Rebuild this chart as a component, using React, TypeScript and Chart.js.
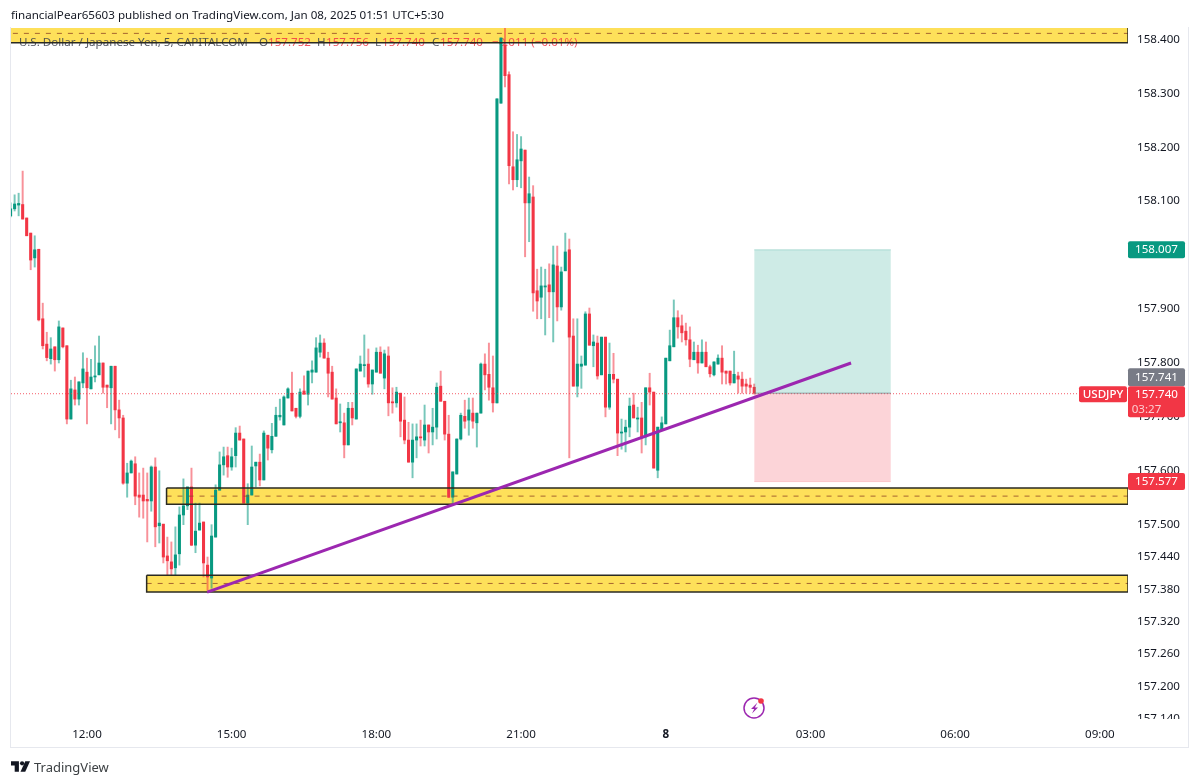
import React, { useEffect, useRef } from "react";
import { Chart, registerables } from "chart.js";

Chart.register(...registerables);

// 5-minute USD/JPY candles, first bar sits 19 bars before the 12:00 tick
const firstBar = -19;
const opens = [
  158.070,158.083,158.090,158.091,158.066,158.038,157.992,158.008,157.879,157.832,
  157.805,157.827,157.803,157.862,157.829,157.693,157.747,157.730,157.760,157.780,
  157.749,157.771,157.775,157.797,157.756,157.751,157.791,157.710,157.695,157.574,
  157.593,157.610,157.552,157.552,157.544,157.541,157.604,157.495,157.498,157.439,
  157.428,157.417,157.443,157.515,157.532,157.567,157.459,157.487,157.502,157.422,
  157.398,157.474,157.561,157.608,157.625,157.604,157.625,157.667,157.656,157.537,
  157.552,157.606,157.613,157.580,157.663,157.636,157.661,157.697,157.682,157.732,
  157.741,157.713,157.698,157.745,157.739,157.780,157.780,157.817,157.834,157.806,
  157.780,157.732,157.686,157.686,157.645,157.713,157.693,157.782,157.792,157.795,
  157.758,157.780,157.817,157.769,157.810,157.725,157.723,157.741,157.691,157.654,
  157.613,157.654,157.660,157.654,157.682,157.669,157.678,157.754,157.726,157.665,
  157.548,157.591,157.656,157.698,157.691,157.704,157.686,157.704,157.795,157.776,
  157.751,157.723,158.279,158.387,158.332,158.161,158.137,158.172,158.192,158.094,
  158.105,157.931,157.919,157.938,157.942,157.929,157.977,157.901,157.968,158.007,
  157.847,157.754,157.791,157.793,157.888,157.829,157.834,157.775,157.845,157.715,
  157.776,157.767,157.667,157.669,157.678,157.719,157.693,157.695,157.660,157.751,
  157.743,157.598,157.673,157.684,157.801,157.827,157.881,157.866,157.856,157.840,
  157.803,157.817,157.797,157.817,157.790,157.775,157.795,157.806,157.782,157.782,
  157.760,157.773,157.767,157.758,157.756,157.752,
];
const highs = [
  158.094,158.109,158.112,158.153,158.066,158.038,158.033,158.008,157.908,157.854,
  157.844,157.827,157.875,157.862,157.829,157.765,157.771,157.762,157.816,157.806,
  157.804,157.829,157.847,157.797,157.756,157.791,157.791,157.728,157.700,157.611,
  157.617,157.623,157.593,157.602,157.593,157.606,157.621,157.597,157.498,157.474,
  157.465,157.493,157.530,157.582,157.567,157.602,157.537,157.537,157.502,157.437,
  157.497,157.571,157.632,157.641,157.641,157.639,157.677,157.680,157.656,157.573,
  157.643,157.613,157.628,157.671,157.663,157.685,157.715,157.730,157.736,157.751,
  157.780,157.713,157.749,157.773,157.782,157.801,157.844,157.849,157.842,157.817,
  157.791,157.749,157.721,157.704,157.724,157.724,157.786,157.810,157.849,157.823,
  157.784,157.825,157.827,157.821,157.827,157.751,157.752,157.741,157.734,157.687,
  157.684,157.684,157.691,157.719,157.682,157.713,157.760,157.782,157.726,157.700,
  157.595,157.656,157.704,157.728,157.732,157.732,157.704,157.797,157.814,157.834,
  157.810,158.287,158.400,158.418,158.337,158.226,158.221,158.217,158.192,158.142,
  158.126,157.971,157.975,157.971,157.981,158.014,158.014,157.975,158.038,158.027,
  157.879,157.879,157.810,157.892,157.899,157.849,157.847,157.845,157.845,157.834,
  157.815,157.767,157.693,157.691,157.732,157.741,157.715,157.724,157.751,157.778,
  157.743,157.678,157.697,157.806,157.858,157.914,157.894,157.886,157.871,157.864,
  157.836,157.830,157.840,157.836,157.793,157.799,157.812,157.829,157.782,157.782,
  157.819,157.780,157.780,157.767,157.769,157.758,
];
const lows = [
  158.068,158.079,158.070,158.064,158.033,157.970,157.975,157.875,157.823,157.801,
  157.795,157.782,157.797,157.825,157.684,157.693,157.719,157.719,157.751,157.684,
  157.749,157.762,157.775,157.741,157.714,157.684,157.673,157.658,157.572,157.548,
  157.593,157.534,157.511,157.509,157.465,157.522,157.456,157.463,157.426,157.404,
  157.404,157.404,157.422,157.497,157.525,157.458,157.445,157.487,157.400,157.376,
  157.379,157.474,157.561,157.589,157.585,157.598,157.604,157.654,157.537,157.497,
  157.552,157.567,157.569,157.580,157.617,157.630,157.661,157.691,157.682,157.732,
  157.708,157.695,157.695,157.739,157.719,157.760,157.780,157.808,157.806,157.734,
  157.730,157.684,157.669,157.621,157.645,157.682,157.693,157.782,157.771,157.752,
  157.739,157.780,157.778,157.749,157.699,157.704,157.715,157.660,157.647,157.613,
  157.584,157.621,157.643,157.643,157.630,157.645,157.656,157.726,157.654,157.547,
  157.537,157.591,157.654,157.676,157.663,157.676,157.641,157.704,157.747,157.728,
  157.706,157.723,158.279,158.309,158.129,158.118,158.124,158.122,157.994,158.022,
  157.893,157.879,157.879,157.849,157.881,157.836,157.875,157.895,157.968,157.621,
  157.754,157.734,157.750,157.793,157.830,157.790,157.767,157.775,157.697,157.711,
  157.760,157.625,157.637,157.632,157.660,157.695,157.669,157.630,157.645,157.719,
  157.602,157.584,157.673,157.684,157.801,157.827,157.843,157.836,157.830,157.790,
  157.803,157.778,157.797,157.790,157.771,157.773,157.795,157.758,157.758,157.756,
  157.760,157.741,157.741,157.741,157.741,157.739,
];
const closes = [
  158.083,158.092,158.093,158.064,158.033,157.988,158.007,157.877,157.829,157.807,
  157.823,157.803,157.864,157.827,157.693,157.749,157.730,157.762,157.786,157.751,
  157.771,157.773,157.797,157.752,157.752,157.791,157.710,157.695,157.574,157.593,
  157.615,157.550,157.548,157.541,157.541,157.604,157.493,157.500,157.437,157.430,
  157.415,157.441,157.515,157.532,157.567,157.459,157.485,157.500,157.426,157.400,
  157.476,157.561,157.608,157.623,157.604,157.623,157.667,157.654,157.537,157.552,
  157.604,157.613,157.580,157.667,157.639,157.661,157.700,157.700,157.734,157.749,
  157.708,157.698,157.743,157.739,157.782,157.784,157.825,157.834,157.806,157.778,
  157.730,157.684,157.688,157.645,157.713,157.695,157.786,157.795,157.794,157.758,
  157.784,157.817,157.778,157.814,157.723,157.723,157.743,157.689,157.654,157.613,
  157.654,157.660,157.658,157.682,157.669,157.678,157.752,157.726,157.665,157.548,
  157.595,157.656,157.700,157.689,157.710,157.689,157.704,157.795,157.775,157.752,
  157.723,158.287,158.400,158.330,158.163,158.137,158.174,158.194,158.094,158.111,
  157.927,157.912,157.940,157.940,157.929,157.979,157.901,157.966,158.003,157.845,
  157.754,157.795,157.795,157.888,157.830,157.836,157.773,157.845,157.715,157.776,
  157.767,157.667,157.669,157.678,157.717,157.695,157.695,157.660,157.751,157.743,
  157.602,157.678,157.686,157.806,157.829,157.881,157.864,157.853,157.840,157.804,
  157.817,157.797,157.817,157.790,157.777,157.799,157.806,157.780,157.778,157.760,
  157.776,157.767,157.754,157.754,157.752,157.741,
];

// axes
const xMin = -18.9;
const xMax = 259;
const yMin = 157.1365;
const yMax = 158.4185;
const timeTickBars = [0, 36, 72, 108, 144, 180, 216, 252];
const timeTickLabels = ["12:00", "15:00", "18:00", "21:00", "8", "03:00", "06:00", "09:00"];
const priceTicks = [158.4, 158.3, 158.2, 158.1, 158.0, 157.9, 157.8, 157.7, 157.6, 157.5, 157.44, 157.38, 157.32, 157.26, 157.2, 157.14];

// drawings (bar index / price)
const zoneStartBars = [xMin - 5, 19.8, 14.85];
const zoneTops = [158.425, 157.565, 157.403];
const zoneMids = [158.4085, 157.55, 157.388];
const zoneBottoms = [158.391, 157.535, 157.372];
const trendBars = [29.9, 190.1];
const trendPrices = [157.372, 157.797];
const positionBars = [166, 200];
const targetPrice = 158.007;
const entryPrice = 157.741;
const stopPrice = 157.577;
const lastPrice = 157.74;
const lastPriceEndBar = 247.4;

const UP = "#089981";
const DOWN = "#f23645";
const UP_WICK = "rgba(8,153,129,0.55)";
const DOWN_WICK = "rgba(242,54,69,0.55)";
const ZONE = "#fee05a";
const FONT = '"Noto Sans", sans-serif';
const FONT_SIZE = 11.6;

const legendParts: [string, number, string][] = [
  ["U.S. Dollar / Japanese Yen, 5, CAPITALCOM", 19, "#3a3e4a"],
  ["O", 259, "#3a3e4a"],
  ["157.752", 268, DOWN],
  ["H", 317, "#3a3e4a"],
  ["157.756", 326, DOWN],
  ["L", 375, "#3a3e4a"],
  ["157.740", 382, DOWN],
  ["C", 432, "#3a3e4a"],
  ["157.740", 440, DOWN],
  ["\u22120.011 (\u22120.01%)", 492, DOWN],
];

function line(points: { x: number; y: number }[], extra: Record<string, unknown>) {
  return { type: "line", data: points, pointRadius: 0, borderWidth: 0, tension: 0, ...extra };
}

function tag(ctx: CanvasRenderingContext2D, x: number, y: number, w: number, h: number, color: string) {
  ctx.fillStyle = color;
  ctx.beginPath();
  ctx.roundRect(x, y, w, h, 2);
  ctx.fill();
}

// tick labels of this font sit a little high on their tick: nudge them down
function nudgeLabels(scale: any, dy: number) {
  if (scale.__nudged) return;
  scale.__nudged = true;
  const draw = scale.drawLabels;
  scale.drawLabels = function (area: any) {
    this.ctx.save();
    this.ctx.translate(0, dy);
    draw.call(this, area);
    this.ctx.restore();
  };
}

const overlayPlugin = {
  id: "overlay",
  afterDatasetDraw(chart: any, args: any) {
    if (args.index !== 0) return;
    const ctx = chart.ctx;
    ctx.save();
    ctx.font = `${FONT_SIZE}px ${FONT}`;
    ctx.textBaseline = "middle";
    ctx.textAlign = "left";
    ctx.globalAlpha = 0.85;
    legendParts.forEach(([t, x, c]) => {
      ctx.fillStyle = c;
      ctx.fillText(t, x, 43);
    });
    ctx.restore();
  },
  afterDraw(chart: any) {
    const ctx = chart.ctx;
    const yScale = chart.scales.y;
    const left = chart.chartArea.right;
    const w = 57;
    ctx.save();
    // cut the lowest tick label at the pane edge
    ctx.fillStyle = "#ffffff";
    ctx.fillRect(left + 1, chart.chartArea.bottom, 59, 7);

    ctx.font = `${FONT_SIZE}px ${FONT}`;
    ctx.textBaseline = "middle";
    ctx.textAlign = "center";
    const tx = left + w / 2;

    const yTarget = yScale.getPixelForValue(targetPrice);
    tag(ctx, left, yTarget - 8.5, w, 17, UP);
    ctx.fillStyle = "#fff";
    ctx.fillText(targetPrice.toFixed(3), tx, yTarget);

    const yStop = yScale.getPixelForValue(stopPrice);
    tag(ctx, left, yStop - 8.5, w, 17, DOWN);
    ctx.fillStyle = "#fff";
    ctx.fillText(stopPrice.toFixed(3), tx, yStop);

    const yLast = yScale.getPixelForValue(lastPrice);
    tag(ctx, left, yLast - 25.5, w, 18, "#787b86");
    ctx.fillStyle = "#fff";
    ctx.fillText(entryPrice.toFixed(3), tx, yLast - 16.5);

    tag(ctx, left, yLast - 7.5, w, 31, DOWN);
    ctx.fillStyle = "#fff";
    ctx.fillText(lastPrice.toFixed(3), tx, yLast + 0.5);
    ctx.fillStyle = "rgba(255,255,255,0.75)";
    ctx.fillText("03:27", tx - 10, yLast + 15.5);

    tag(ctx, left - 49, yLast - 7.5, 48, 16, DOWN);
    ctx.fillStyle = "#fff";
    ctx.font = `500 ${FONT_SIZE}px ${FONT}`;
    ctx.fillText("USDJPY", left - 25, yLast + 0.5);
    ctx.restore();
  },
};

export default function App() {
  const canvasRef = useRef<HTMLCanvasElement | null>(null);

  useEffect(() => {
    const barIndex = opens.map((_, i) => firstBar + i);
    const datasets: any[] = [];

    zoneTops.forEach((top, z) => {
      const x0 = zoneStartBars[z];
      const bottom = zoneBottoms[z];
      datasets.push(line([{ x: x0, y: top }, { x: xMax, y: top }], { fill: "+1", backgroundColor: ZONE, order: 20 - z }));
      datasets.push(line([{ x: x0, y: bottom }, { x: xMax, y: bottom }], { fill: false, order: 20 - z }));
    });

    datasets.push(line([{ x: positionBars[0], y: targetPrice }, { x: positionBars[1], y: targetPrice }], {
      fill: "+1", backgroundColor: "rgba(8,153,129,0.2)", borderColor: "rgba(8,153,129,0.25)", borderWidth: 1, order: 2,
    }));
    datasets.push(line([{ x: positionBars[0], y: entryPrice }, { x: positionBars[1], y: entryPrice }], {
      fill: "+1", backgroundColor: "rgba(242,54,69,0.21)", borderColor: "rgba(120,123,134,0.7)", borderWidth: 1, order: 2,
    }));
    datasets.push(line([{ x: positionBars[0], y: stopPrice }, { x: positionBars[1], y: stopPrice }], {
      fill: false, borderColor: "rgba(242,54,69,0.2)", borderWidth: 1, order: 2,
    }));

    datasets.push({
      type: "bar",
      grouped: false,
      order: 8,
      barThickness: 1.3,
      data: barIndex.map((x, i) => ({ x, y: [lows[i], highs[i]] })),
      backgroundColor: closes.map((c, i) => (c >= opens[i] ? UP_WICK : DOWN_WICK)),
    });
    datasets.push({
      type: "bar",
      grouped: false,
      order: 7,
      barThickness: 2.4,
      data: barIndex.map((x, i) => ({ x, y: [opens[i], closes[i]] })),
      backgroundColor: closes.map((c, i) => (c >= opens[i] ? UP : DOWN)),
    });

    zoneTops.forEach((top, z) => {
      const x0 = zoneStartBars[z];
      const bottom = zoneBottoms[z];
      datasets.push(line(
        [{ x: x0, y: top }, { x: xMax, y: top }, { x: xMax, y: bottom }, { x: x0, y: bottom }, { x: x0, y: top }],
        { fill: false, borderColor: "#2a2a22", borderWidth: 1.5, order: 4 },
      ));
      datasets.push(line([{ x: x0, y: zoneMids[z] }, { x: xMax, y: zoneMids[z] }], {
        fill: false, borderColor: "rgba(150,80,40,0.85)", borderWidth: 1, borderDash: [5, 6], order: 4,
      }));
    });

    datasets.push(line([{ x: xMin, y: lastPrice }, { x: lastPriceEndBar, y: lastPrice }], {
      fill: false, borderColor: "rgba(242,54,69,0.8)", borderWidth: 1, borderDash: [1, 2], order: 3,
    }));
    datasets.push(line(trendBars.map((x, i) => ({ x, y: trendPrices[i] })), {
      fill: false, borderColor: "#9c27b0", borderWidth: 3, order: 1,
    }));

    const chart = new Chart(canvasRef.current as HTMLCanvasElement, {
      type: "bar",
      data: { datasets },
      plugins: [overlayPlugin],
      options: {
        responsive: false,
        animation: false,
        devicePixelRatio: 1,
        layout: { padding: { left: 11, right: 11, top: 28, bottom: 36 } },
        plugins: { legend: { display: false }, tooltip: { enabled: false } },
        scales: {
          x: {
            type: "linear",
            offset: false,
            min: xMin,
            max: xMax,
            grid: { display: false, drawTicks: false },
            border: { display: false },
            afterBuildTicks: (s: any) => { s.ticks = timeTickBars.map((value) => ({ value })); },
            afterFit: (s: any) => { s.height = 29; nudgeLabels(s, 1.5); },
            ticks: {
              autoSkip: false,
              maxRotation: 0,
              padding: 7,
              color: "#131722",
              font: (c: any) => ({
                family: FONT,
                size: FONT_SIZE,
                weight: c.tick && c.tick.value === 144 ? "bold" : "normal",
              }),
              callback: (v: any) => timeTickLabels[timeTickBars.indexOf(Number(v))],
            },
          },
          y: {
            type: "linear",
            position: "right",
            min: yMin,
            max: yMax,
            grid: { display: false, drawTicks: false },
            border: { display: false },
            afterBuildTicks: (s: any) => { s.ticks = priceTicks.map((value) => ({ value })); },
            afterFit: (s: any) => { s.width = 61; nudgeLabels(s, 1.5); },
            ticks: {
              autoSkip: false,
              padding: 9,
              color: "#131722",
              font: { family: FONT, size: FONT_SIZE },
              callback: (v: any) => Number(v).toFixed(3),
            },
          },
        },
      } as any,
    } as any);
    return () => chart.destroy();
  }, []);

  return (
    <div style={{ position: "fixed", left: 0, top: 0, width: 1200, height: 784, background: "#fff", overflow: "hidden" }}>
      <canvas ref={canvasRef} width={1200} height={784} style={{ position: "absolute", left: 0, top: 0, width: 1200, height: 784 }} />
      <div style={{ position: "absolute", left: 10, top: 27, width: 1179, height: 721, borderLeft: "1px solid #e6e8ee", borderRight: "1px solid #e6e8ee", borderBottom: "1px solid #e6e8ee", boxSizing: "border-box", pointerEvents: "none" }} />
      <div style={{ position: "absolute", left: 11, top: 7, font: `${FONT_SIZE}px ${FONT}`, color: "#131722", whiteSpace: "nowrap" }}>
        financialPear65603 published on TradingView.com, Jan 08, 2025 01:51 UTC+5:30
      </div>
      <svg style={{ position: "absolute", left: 11, top: 761 }} width="19" height="11" viewBox="0 0 36 20">
        <path d="M0 0h15v20H7V8H0z" fill="#131722" />
        <circle cx="21" cy="4" r="4" fill="#131722" />
        <path d="M27 0h9l-9 20h-9z" fill="#131722" />
      </svg>
      <div style={{ position: "absolute", left: 34, top: 758, font: `13px ${FONT}`, color: "#3c4043", whiteSpace: "nowrap" }}>TradingView</div>
      <svg style={{ position: "absolute", left: 742, top: 695 }} width="26" height="26" viewBox="0 0 26 26">
        <circle cx="12" cy="13" r="10" fill="#fff" stroke="#9c27b0" strokeWidth="1.5" />
        <path d="M15.5 7.5 9 14h3.2l-2.2 4.6L16 12.6h-3.2z" fill="#9c27b0" />
        <circle cx="19" cy="6" r="2.8" fill="#f23645" />
      </svg>
    </div>
  );
}
